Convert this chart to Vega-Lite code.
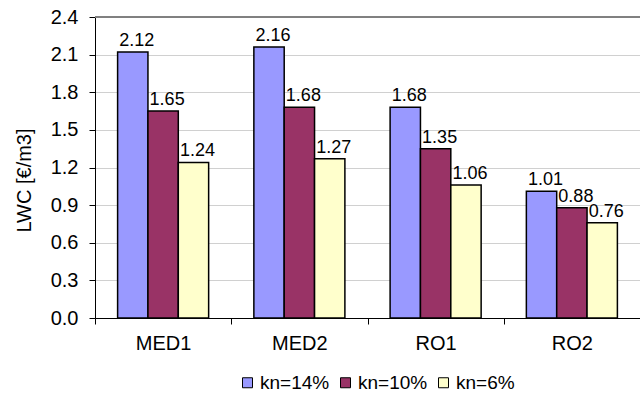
{
  "$schema": "https://vega.github.io/schema/vega-lite/v6.json",
  "width": 545,
  "height": 301,
  "autosize": {"type": "none"},
  "padding": {"left": 95, "top": 17, "right": 0, "bottom": 76},
  "background": "white",
  "config": {"view": {"stroke": null}, "font": "Liberation Sans"},
  "data": {
    "values": [
      {"process": "MED1", "kn": "kn=14%", "lwc": 2.12},
      {"process": "MED1", "kn": "kn=10%", "lwc": 1.65},
      {"process": "MED1", "kn": "kn=6%", "lwc": 1.24},
      {"process": "MED2", "kn": "kn=14%", "lwc": 2.16},
      {"process": "MED2", "kn": "kn=10%", "lwc": 1.68},
      {"process": "MED2", "kn": "kn=6%", "lwc": 1.27},
      {"process": "RO1", "kn": "kn=14%", "lwc": 1.68},
      {"process": "RO1", "kn": "kn=10%", "lwc": 1.35},
      {"process": "RO1", "kn": "kn=6%", "lwc": 1.06},
      {"process": "RO2", "kn": "kn=14%", "lwc": 1.01},
      {"process": "RO2", "kn": "kn=10%", "lwc": 0.88},
      {"process": "RO2", "kn": "kn=6%", "lwc": 0.76}
    ]
  },
  "layer": [
    {
      "mark": {"type": "bar", "stroke": "black", "strokeWidth": 1.5},
      "encoding": {
        "x": {
          "field": "process", "type": "nominal",
          "sort": ["MED1", "MED2", "RO1", "RO2"],
          "scale": {"paddingInner": 0, "paddingOuter": 0},
          "axis": {
            "title": null, "tickBand": "extent", "labelAngle": 0,
            "labelFont": "Liberation Sans", "labelFontSize": 20, "labelColor": "black",
            "labelPadding": 9, "tickSize": 6, "tickColor": "black",
            "domainColor": "black", "grid": false
          }
        },
        "xOffset": {
          "field": "kn", "type": "nominal",
          "sort": ["kn=14%", "kn=10%", "kn=6%"],
          "scale": {"paddingInner": 0, "paddingOuter": 0.745}
        },
        "y": {
          "field": "lwc", "type": "quantitative",
          "scale": {"domain": [0, 2.4], "nice": false},
          "axis": {
            "values": [0, 0.3, 0.6, 0.9, 1.2, 1.5, 1.8, 2.1, 2.4],
            "tickCount": 12,
            "format": ".1f", "labelOverlap": false,
            "title": "LWC [€/m3]",
            "titleFont": "Liberation Sans", "titleFontSize": 20, "titleFontWeight": "normal",
            "titleColor": "black", "titleX": -71, "titleY": 163, "titleBaseline": "middle",
            "labelFont": "Liberation Sans", "labelFontSize": 20, "labelColor": "black",
            "labelPadding": 11, "tickSize": 6, "tickColor": "black",
            "domainColor": "black", "gridColor": "#d0d0d0", "gridWidth": 1
          }
        },
        "fill": {
          "field": "kn", "type": "nominal",
          "scale": {"domain": ["kn=14%", "kn=10%", "kn=6%"], "range": ["#9999FF", "#993366", "#FFFFCC"]},
          "legend": {
            "orient": "none", "legendX": 143, "legendY": 356, "direction": "horizontal",
            "title": null, "padding": 0,
            "symbolType": "square", "symbolSize": 100,
            "symbolStrokeColor": "black", "symbolStrokeWidth": 1,
            "labelFont": "Liberation Sans", "labelFontSize": 19, "labelColor": "black",
            "labelOffset": 3, "columnPadding": 6
          }
        }
      }
    },
    {
      "mark": {"type": "text", "baseline": "alphabetic", "dx": 4, "dy": -6, "font": "Liberation Sans", "fontSize": 18, "color": "black"},
      "encoding": {
        "x": {"field": "process", "type": "nominal", "sort": ["MED1", "MED2", "RO1", "RO2"]},
        "xOffset": {"field": "kn", "type": "nominal", "sort": ["kn=14%", "kn=10%", "kn=6%"]},
        "y": {"field": "lwc", "type": "quantitative"},
        "text": {"field": "lwc", "type": "quantitative", "format": ".2f"}
      }
    },
    {
      "mark": {"type": "rule", "color": "#808080", "strokeWidth": 1},
      "encoding": {"y": {"datum": 2.4}}
    }
  ]
}
